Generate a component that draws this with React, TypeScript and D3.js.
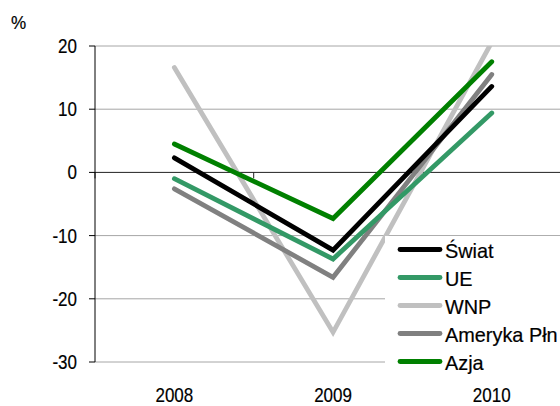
import React from "react";
import * as d3 from "d3";

const categories = ["2008", "2009", "2010"];
const yTicks = [20, 10, 0, -10, -20, -30];
const seriesNames = ["Świat", "UE", "WNP", "Ameryka Płn", "Azja"];
const swiat = [2.3, -12.3, 13.6];
const ue = [-1.0, -13.7, 9.4];
const wnp = [16.6, -25.3, 20.6];
const ameryka = [-2.6, -16.6, 15.5];
const azja = [4.5, -7.3, 17.5];
const seriesColors = ["#000000", "#339966", "#c0c0c0", "#808080", "#008000"];

const W = 560;
const H = 406;
const left = 95;
const top = 46;
const bottom = 362;
const bandW = 158.7;
const FONT = "'Liberation Sans', Arial, sans-serif";

function CText(props: { x: number; y: number; anchor?: string; size: number; sx?: number; children: React.ReactNode }) {
  const { x, y, anchor = "start", size, sx = 0.85, children } = props;
  return (
    <text
      transform={`translate(${x},${y}) scale(${sx},1)`}
      textAnchor={anchor}
      fontSize={size}
      fill="#000"
      stroke="#000"
      strokeWidth={0.2}
    >
      {children}
    </text>
  );
}

export default function App() {
  const x = d3
    .scaleBand<string>()
    .domain(categories)
    .range([left, left + bandW * categories.length]);
  const y = d3.scaleLinear().domain([-30, 20]).range([bottom, top]);
  const data = [swiat, ue, wnp, ameryka, azja];
  const line = d3
    .line<number>()
    .x((_, i) => (x(categories[i]) as number) + x.bandwidth() / 2)
    .y((d) => y(d));
  const drawOrder = [2, 3, 1, 0, 4];
  const boundaries = categories.map((c) => (x(c) as number)).concat([left + bandW * categories.length]);

  return (
    <svg
      width={W}
      height={H}
      style={{ position: "absolute", left: 0, top: 0, background: "#fff" }}
      fontFamily={FONT}
    >
      <defs>
        <clipPath id="plot">
          <rect x={left} y={top} width={W - left} height={bottom - top} />
        </clipPath>
      </defs>
      {yTicks
        .filter((t) => t !== 0)
        .map((t) => (
          <line key={t} x1={left} x2={W} y1={y(t)} y2={y(t)} stroke="#a6a6a6" strokeWidth={1} />
        ))}
      <line x1={left} x2={W} y1={y(0)} y2={y(0)} stroke="#222" strokeWidth={1} />
      {boundaries.map((b, i) => (
        <line key={i} x1={b} x2={b} y1={y(0)} y2={y(0) + 6} stroke="#222" strokeWidth={1} />
      ))}
      <line x1={left} x2={left} y1={top} y2={bottom} stroke="#000" strokeWidth={1} />
      {yTicks.map((t) => (
        <g key={t}>
          <line x1={left - 6} x2={left} y1={y(t)} y2={y(t)} stroke="#000" strokeWidth={1} />
          <CText x={77} y={y(t) + 7} anchor="end" size={20}>
            {t}
          </CText>
        </g>
      ))}
      <CText x={11} y={29} size={18} sx={0.95}>
        %
      </CText>
      {categories.map((c) => (
        <CText key={c} x={(x(c) as number) + x.bandwidth() / 2} y={401.5} anchor="middle" size={20}>
          {c}
        </CText>
      ))}
      <g clipPath="url(#plot)">
        {drawOrder.map((si) => (
          <path
            key={si}
            d={line(data[si]) as string}
            fill="none"
            stroke={seriesColors[si]}
            strokeWidth={4.8}
            strokeLinecap="round"
            strokeLinejoin="miter"
          />
        ))}
      </g>
      <rect x={385} y={236} width={175} height={138} fill="#fff" />
      {seriesNames.map((n, i) => {
        const ly = 249.5 + i * 28;
        return (
          <g key={n}>
            <line
              x1={400}
              x2={440}
              y1={ly}
              y2={ly}
              stroke={seriesColors[i]}
              strokeWidth={4.8}
              strokeLinecap="round"
            />
            <CText x={445} y={ly + 8} size={20.5} sx={0.97}>
              {n}
            </CText>
          </g>
        );
      })}
    </svg>
  );
}
